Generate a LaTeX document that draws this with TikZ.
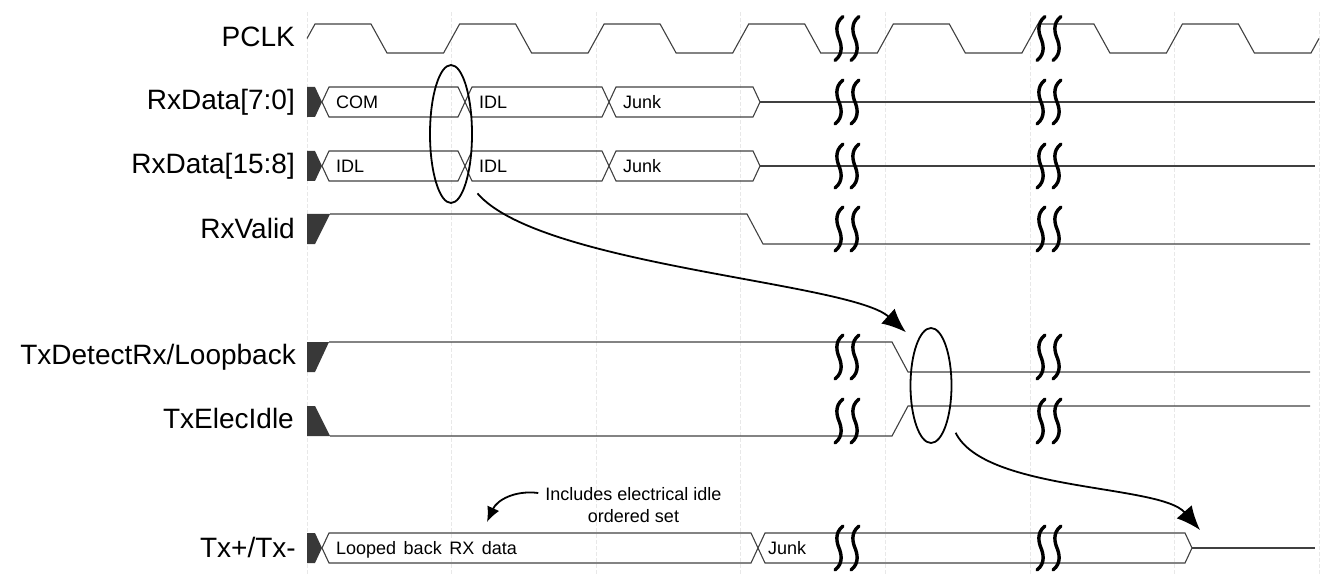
\documentclass[tikz,border=0pt]{standalone}
\usepackage{fontspec}
\setmainfont{Liberation Sans}
\usetikzlibrary{arrows.meta,shapes.geometric}
\newcommand{\wbus}[3]{\draw[sig] (#1,#3) -- ({#1+7},{#3-15}) -- ({#2-7},{#3-15}) -- (#2,#3) -- ({#2-7},{#3+15}) -- ({#1+7},{#3+15}) -- cycle;}
\newcommand{\wbusstart}[1]{\fill[darkfill] (307,{#1-15}) -- (315,{#1-15}) -- (322,#1) -- (315,{#1+15}) -- (307,{#1+15}) -- cycle;}
\newcommand{\wbrk}[2]{\draw[brk] ({#1+4},{#2-22}) .. controls ({#1-5},{#2-15}) and ({#1-2},{#2-5}) .. (#1,#2) .. controls ({#1+2},{#2+5}) and ({#1+5},{#2+15}) .. ({#1-4},{#2+22});}
\begin{document}
\begin{tikzpicture}[x=1pt,y=-1pt,
  sig/.style={draw=black!75,line width=1.1pt,line join=miter},
  darkfill/.style={fill=black!78},
  gridln/.style={draw=black!9,line width=0.6pt,dash pattern=on 4pt off 2pt},
  brk/.style={draw=black,line width=3.4pt,line cap=round},
  lbl/.style={anchor=base east,inner sep=0pt,font=\fontsize{28}{30}\selectfont},
  bustxt/.style={anchor=base west,inner sep=0pt,font=\fontsize{18}{20}\selectfont},
  ring/.style={draw=black,line width=1.8pt,ellipse,inner sep=0pt},
  callout/.style={draw=black,line width=1.8pt},
]
\useasboundingbox (0,0) rectangle (1333,580);
% grid
\foreach \k in {0,...,7} \draw[gridln] ({307+144.57*\k},12) -- ({307+144.57*\k},575);
% signal names
\node[lbl] (lpclk) at (295,47) {PCLK};
\node[lbl] (lrx0) at (295,110) {RxData[7:0]};
\node[lbl] (lrx1) at (295,174) {RxData[15:8]};
\node[lbl] (lrxv) at (295,238) {RxValid};
\node[lbl] (ltxd) at (296,364) {TxDetectRx/Loopback};
\node[lbl] (ltxe) at (294,428) {TxElecIdle};
\node[lbl] (ltx) at (296,557) {Tx+/Tx-};
% PCLK
\draw[sig] (307,38.5) -- (315,24) -- (371,24) -- (387,53) -- (443.6,53) -- (459.6,24) -- (515.6,24) -- (531.6,53) -- (588.1,53) -- (604.1,24) -- (660.1,24) -- (676.1,53) -- (732.7,53) -- (748.7,24) -- (804.7,24) -- (820.7,53) -- (877.3,53) -- (893.3,24) -- (949.3,24) -- (965.3,53) -- (1021.9,53) -- (1037.9,24) -- (1093.9,24) -- (1109.9,53) -- (1166.4,53) -- (1182.4,24) -- (1238.4,24) -- (1254.4,53) -- (1311,53) -- (1319,38.5);
% RxData[7:0]
\wbusstart{102}
\wbus{322}{465}{102}
\wbus{465}{609}{102}
\wbus{609}{760}{102}
\draw[sig] (760,102) -- (1315,102);
\node[bustxt] (c0) at (336,108.5) {COM};
\node[bustxt] (i0) at (479,108.5) {IDL};
\node[bustxt] (j0) at (623,108.5) {Junk};
% RxData[15:8]
\wbusstart{166}
\wbus{322}{465}{166}
\wbus{465}{609}{166}
\wbus{609}{760}{166}
\draw[sig] (760,166) -- (1315,166);
\node[bustxt] (i1) at (336,172.5) {IDL};
\node[bustxt] (i2) at (479,172.5) {IDL};
\node[bustxt] (j1) at (623,172.5) {Junk};
% RxValid
\fill[darkfill] (307,214) -- (330,214) -- (315,244) -- (307,244) -- cycle;
\draw[sig] (330,214) -- (747,214) -- (763,244) -- (1310,244);
% TxDetectRx/Loopback
\fill[darkfill] (307,342) -- (329,342) -- (315,372) -- (307,372) -- cycle;
\draw[sig] (329,342) -- (892,342) -- (908,372) -- (1310,372);
% TxElecIdle
\fill[darkfill] (307,406) -- (315,406) -- (330,436) -- (307,436) -- cycle;
\draw[sig] (330,436) -- (892,436) -- (908,406) -- (1310,406);
% Tx+/Tx-
\wbusstart{548}
\wbus{322}{758}{548}
\wbus{758}{1192}{548}
\coordinate (txend) at (1192,548);
\draw[sig] (txend) -- (1315,548);
\node[bustxt] (lb) at (336,554.5) {\spaceskip=7.5pt plus 1pt\relax Looped back RX data};
\node[bustxt] (j2) at (768,554.5) {Junk};
% breaks
\foreach \y in {38.5,102,166,229,357,421,548} {
  \wbrk{839}{\y}
  \wbrk{855}{\y}
  \wbrk{1041}{\y}
  \wbrk{1057}{\y}
}
% ellipses
\node[ring,minimum width=42pt,minimum height=138pt] (e1) at (451,134) {};
\node[ring,minimum width=41pt,minimum height=115pt] (e2) at (931,385.5) {};
% arrows
\draw[callout,-{Latex[length=24pt,width=20pt]}] ([shift={(11,10)}]e1.south east) .. controls (540,266) and (850,282) .. ([shift={(-10,-12)}]e2.north west);
\draw[callout,-{Latex[length=24pt,width=20pt]}] ([shift={(9.5,6)}]e2.south east) .. controls (985,492) and (1160,484) .. ([shift={(8,-18)}]txend);
% annotation
\node[align=center,anchor=north,inner sep=0pt,font=\fontsize{18}{22}\selectfont] (note) at (633.5,487) {Includes electrical idle\\ordered set};
\coordinate (notetip) at (487,522);
\draw[callout,-{Latex[length=15pt,width=13pt]}] ([shift={(-7,6)}]note.north west) .. controls (515,490) and (497,500) .. (notetip);
\end{tikzpicture}
\end{document}
